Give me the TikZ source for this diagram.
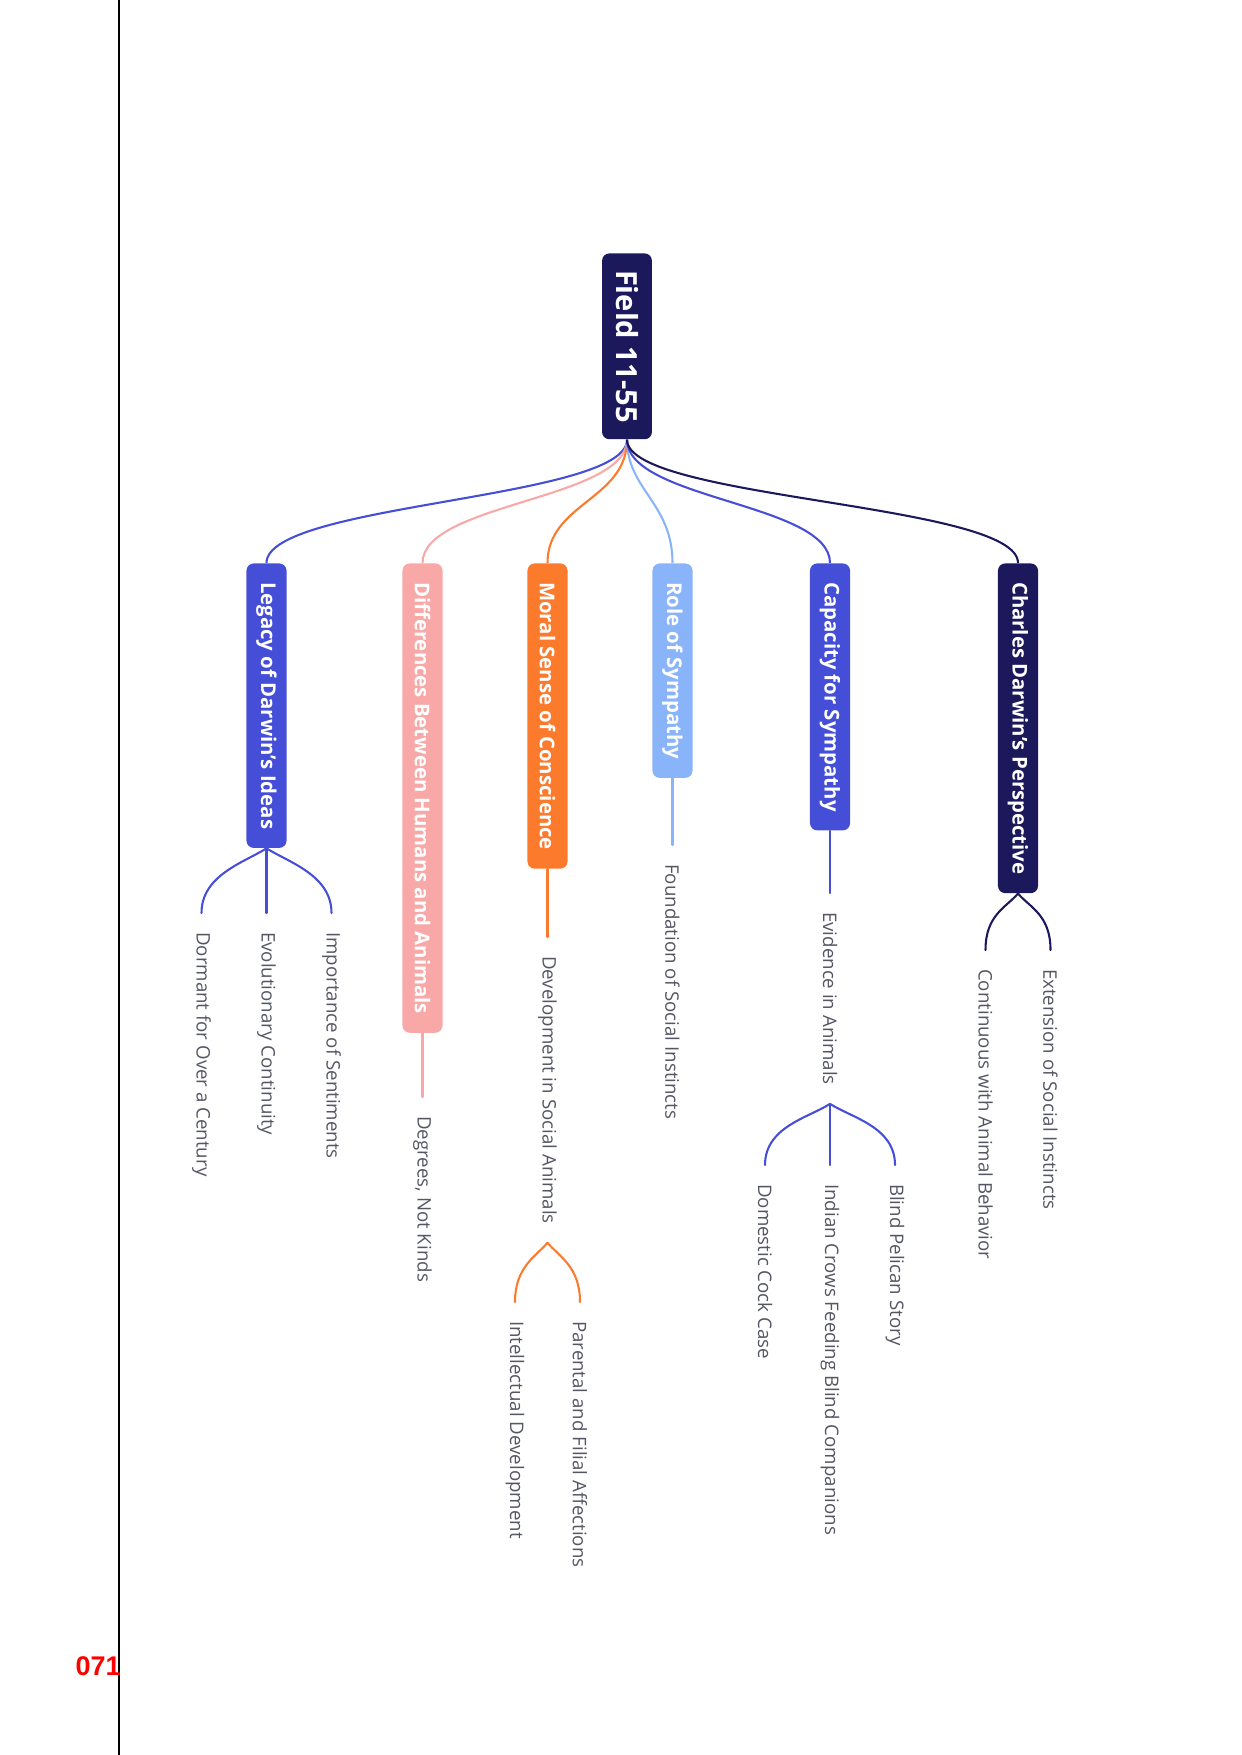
\documentclass[tikz,border=0pt]{standalone}
\usepackage{fontspec}
\setmainfont{Open Sans}
\newfontfamily\numfont{Liberation Sans}
\usetikzlibrary{positioning}

\definecolor{navy}{RGB}{27,25,92}
\definecolor{dblue}{RGB}{69,78,214}
\definecolor{rose}{RGB}{248,168,166}
\definecolor{tangerine}{RGB}{252,122,44}
\definecolor{sky}{RGB}{138,180,250}
\definecolor{leafgray}{RGB}{84,86,100}

\begin{document}
\begin{tikzpicture}[x=0.016922cm, y=-0.016922cm,
    rootbox/.style={rounded corners=3.5pt, fill=navy, text=white, font=\bfseries\fontsize{14}{16}\selectfont, rotate=-90, anchor=west, minimum height=24pt, inner xsep=8pt},
    mbox/.style={rounded corners=3.5pt, text=white, font=\bfseries\fontsize{9.8}{12}\selectfont, rotate=-90, anchor=west, minimum height=19.3pt, inner xsep=9pt},
    leaf/.style={text=leafgray, font=\fontsize{9}{11}\selectfont, rotate=-90, anchor=west, inner xsep=9pt, inner ysep=0pt},
    link/.style={line width=1pt},
    fork/.style={link, line cap=round}
]
\useasboundingbox (0,0) rectangle (1241,1755);
% page edge and number
\draw[line width=0.7pt] (119,0) -- (119,1755);
\node[text=red, font=\numfont\bfseries\fontsize{13}{15}\selectfont, anchor=east, inner sep=0pt] (pageno) at (121,1666) {071};

% root and main branches
\node[rootbox] (field) at (627,253) {Field 11-55};
\node[mbox, fill=dblue] (legacy) at (266.5,563) {Legacy of Darwin's Ideas};
\node[mbox, fill=rose] (diff) at (422.5,563) {Differences Between Humans and Animals};
\node[mbox, fill=tangerine] (moral) at (547.5,563) {Moral Sense of Conscience};
\node[mbox, fill=sky] (role) at (672.5,563) {Role of Sympathy};
\node[mbox, fill=dblue] (capacity) at (830,563) {Capacity for Sympathy};
\node[mbox, fill=navy] (charles) at (1018,563) {Charles Darwin's Perspective};

\draw[link, dblue] (field.east) .. controls +(0,60) and +(0,-60) .. (legacy.west);
\draw[link, rose] (field.east) .. controls +(0,60) and +(0,-60) .. (diff.west);
\draw[link, tangerine] (field.east) .. controls +(0,60) and +(0,-60) .. (moral.west);
\draw[link, sky] (field.east) .. controls +(0,50) and +(0,-60) .. (role.west);
\draw[link, dblue] (field.east) .. controls +(0,60) and +(0,-60) .. (capacity.west);
\draw[link, navy] (field.east) .. controls +(0,60) and +(0,-60) .. (charles.west);

% leaves
\node[leaf] (dormant) at (201.5,913) {Dormant for Over a Century};
\node[leaf] (evolut) at (266.5,913) {Evolutionary Continuity};
\node[leaf] (import) at (331.5,913) {Importance of Sentiments};
\node[leaf] (degrees) at (422.5,1097) {Degrees, Not Kinds};
\node[leaf] (devel) at (547.5,937) {Development in Social Animals};
\node[leaf] (intel) at (515,1302) {Intellectual Development};
\node[leaf] (parent) at (580,1302) {Parental and Filial Affections};
\node[leaf] (found) at (672.5,845) {Foundation of Social Instincts};
\node[leaf] (evid) at (830,893) {Evidence in Animals};
\node[leaf] (cock) at (765,1165) {Domestic Cock Case};
\node[leaf] (crows) at (830,1165) {Indian Crows Feeding Blind Companions};
\node[leaf] (pelican) at (895,1165) {Blind Pelican Story};
\node[leaf] (contin) at (985.5,950) {Continuous with Animal Behavior};
\node[leaf] (extens) at (1050.5,950) {Extension of Social Instincts};

\draw[fork, dblue] (legacy.east) .. controls +(-22,14) and +(0,-38) .. (dormant.west);
\draw[fork, dblue] (legacy.east) -- (evolut.west);
\draw[fork, dblue] (legacy.east) .. controls +(22,14) and +(0,-38) .. (import.west);
\draw[fork, rose] (diff.east) -- (degrees.west);
\draw[fork, tangerine] (moral.east) -- (devel.west);
\draw[fork, tangerine] (devel.east) .. controls +(-12,14) and +(0,-35) .. (intel.west);
\draw[fork, tangerine] (devel.east) .. controls +(12,14) and +(0,-35) .. (parent.west);
\draw[fork, sky] (role.east) -- (found.west);
\draw[fork, dblue] (capacity.east) -- (evid.west);
\draw[fork, dblue] (evid.east) .. controls +(-22,14) and +(0,-38) .. (cock.west);
\draw[fork, dblue] (evid.east) -- (crows.west);
\draw[fork, dblue] (evid.east) .. controls +(22,14) and +(0,-38) .. (pelican.west);
\draw[fork, navy] (charles.east) .. controls +(-12,14) and +(0,-35) .. (contin.west);
\draw[fork, navy] (charles.east) .. controls +(12,14) and +(0,-35) .. (extens.west);
\end{tikzpicture}
\end{document}
